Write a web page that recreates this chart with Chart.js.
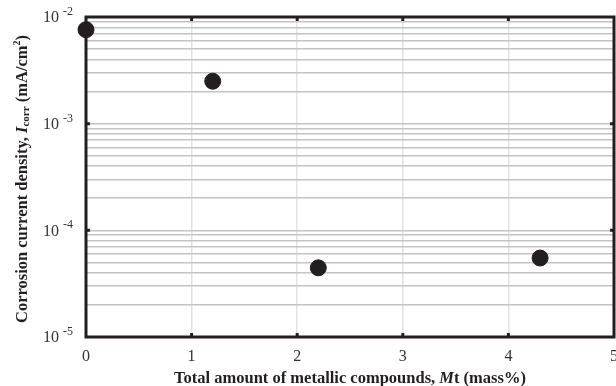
<!DOCTYPE html>
<html>
<head>
<meta charset="utf-8">
<script src="https://cdn.jsdelivr.net/npm/chart.js@4.4.1/dist/chart.umd.min.js"></script>
<style>
  html, body { margin: 0; padding: 0; background: #fff; overflow: hidden; }
  #wrap { width: 616px; height: 386px; position: relative; }
  canvas { display: block; }
</style>
</head>
<body>
<div id="wrap"><canvas id="chart"></canvas></div>
<script>
// measured points: Mt (mass%) vs Icorr (mA/cm2)
const mtValues = [0, 1.2, 2.2, 4.3];
const icorrValues = [7.6e-3, 2.5e-3, 4.45e-5, 5.5e-5];

const xTicks = [0, 1, 2, 3, 4, 5];
const yExponents = [-5, -4, -3, -2];

const INK = '#231f20';
const SERIF = '"Liberation Serif", "Times New Roman", serif';

// 1..9 x 10^n gridlines for each decade
const yGridValues = [];
for (let e = -5; e < -2; e++) {
  for (let m = 1; m < 10; m++) yGridValues.push(m * Math.pow(10, e));
}
yGridValues.push(1e-2);

// draw a sequence of [text, font, dy] pieces left to right
function drawRuns(ctx, runs, x, y) {
  let cx = x;
  runs.forEach(r => {
    ctx.font = r.font;
    ctx.fillText(r.text, cx, y + (r.dy || 0));
    cx += ctx.measureText(r.text).width;
  });
}
function runsWidth(ctx, runs) {
  let w = 0;
  runs.forEach(r => { ctx.font = r.font; w += ctx.measureText(r.text).width; });
  return w;
}

const framePlugin = {
  id: 'frame',
  beforeDatasetsDraw(chart) {
    const { ctx, chartArea: a, scales } = chart;
    const xs = scales.x, ys = scales.y;
    ctx.save();
    ctx.strokeStyle = INK;
    ctx.lineWidth = 3;
    ctx.beginPath();
    ctx.moveTo(a.left, a.top);
    ctx.lineTo(a.right, a.top);
    ctx.lineTo(a.right, a.bottom);
    ctx.lineTo(a.left, a.bottom);
    ctx.closePath();
    ctx.stroke();

    // inner tick marks
    xTicks.slice(1, -1).forEach(v => {
      const px = xs.getPixelForValue(v);
      ctx.beginPath();
      ctx.moveTo(px, a.bottom);
      ctx.lineTo(px, a.bottom - 4);
      ctx.moveTo(px, a.top);
      ctx.lineTo(px, a.top + 4);
      ctx.stroke();
    });
    yExponents.slice(1, -1).forEach(e => {
      const py = ys.getPixelForValue(Math.pow(10, e));
      ctx.beginPath();
      ctx.moveTo(a.left, py);
      ctx.lineTo(a.left + 4, py);
      ctx.moveTo(a.right, py);
      ctx.lineTo(a.right - 4, py);
      ctx.stroke();
    });
    ctx.restore();
  },
  afterDraw(chart) {
    const { ctx, chartArea: a, scales } = chart;
    const xs = scales.x, ys = scales.y;
    ctx.save();
    ctx.fillStyle = '#333';
    ctx.textBaseline = 'middle';

    // y tick labels 10^n
    yExponents.forEach(e => {
      const py = ys.getPixelForValue(Math.pow(10, e));
      const runs = [
        { text: '10 ', font: '16px ' + SERIF },
        { text: String(e), font: '12px ' + SERIF, dy: -6 }
      ];
      const w = runsWidth(ctx, runs);
      ctx.textAlign = 'left';
      drawRuns(ctx, runs, a.left - 13 - w, py + 1);
    });

    // x tick labels
    ctx.font = '16px ' + SERIF;
    ctx.textAlign = 'center';
    xTicks.forEach(v => {
      ctx.fillText(String(v), xs.getPixelForValue(v), 357);
    });

    // x axis title
    ctx.fillStyle = INK;
    ctx.textAlign = 'left';
    const xt = [
      { text: 'Total amount of metallic compounds, ', font: 'bold 16.5px ' + SERIF },
      { text: 'M', font: 'italic bold 16.5px ' + SERIF },
      { text: 't (mass%)', font: 'bold 16.5px ' + SERIF }
    ];
    const xw = runsWidth(ctx, xt);
    drawRuns(ctx, xt, (a.left + a.right) / 2 - xw / 2, 379);

    // y axis title (rotated)
    const yt = [
      { text: 'Corrosion current density, ', font: 'bold 16.5px ' + SERIF },
      { text: 'I', font: 'italic bold 16.5px ' + SERIF },
      { text: 'corr', font: 'bold 11px ' + SERIF, dy: 3 },
      { text: ' (mA/cm', font: 'bold 16.5px ' + SERIF },
      { text: '2', font: 'bold 10px ' + SERIF, dy: -6 },
      { text: ')', font: 'bold 16.5px ' + SERIF }
    ];
    const yw = runsWidth(ctx, yt);
    ctx.translate(23, 179);
    ctx.rotate(-Math.PI / 2);
    drawRuns(ctx, yt, -yw / 2, 0);
    ctx.restore();
  }
};

new Chart(document.getElementById('chart'), {
  type: 'scatter',
  data: {
    datasets: [{
      data: mtValues.map((x, i) => ({ x: x, y: icorrValues[i] })),
      backgroundColor: INK,
      borderColor: INK,
      pointRadius: 8,
      pointHoverRadius: 8,
      clip: false
    }]
  },
  options: {
    responsive: true,
    maintainAspectRatio: false,
    animation: false,
    events: [],
    // no auto padding for the markers, plot runs to the right edge
    layout: { autoPadding: false, padding: { left: 86, right: 2, top: 17, bottom: 49 } },
    plugins: { legend: { display: false }, tooltip: { enabled: false } },
    scales: {
      x: {
        type: 'linear',
        min: 0,
        max: 5,
        afterBuildTicks: s => { s.ticks = xTicks.map(v => ({ value: v })); },
        ticks: { display: false },
        border: { display: false },
        grid: {
          drawTicks: false,
          color: '#e2e2e2',
          lineWidth: 1.5
        }
      },
      y: {
        type: 'logarithmic',
        min: 1e-5,
        max: 1e-2,
        afterBuildTicks: s => { s.ticks = yGridValues.map(v => ({ value: v })); },
        ticks: { display: false },
        border: { display: false },
        grid: {
          drawTicks: false,
          color: '#c4c4c4',
          lineWidth: 1.5
        }
      }
    }
  },
  plugins: [framePlugin]
});
</script>
</body>
</html>
